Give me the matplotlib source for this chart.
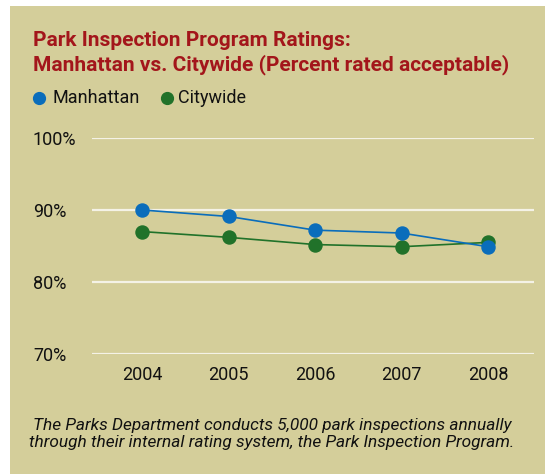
import matplotlib
matplotlib.use('Agg')
import matplotlib.pyplot as plt
from matplotlib.patches import Rectangle

years = [2004, 2005, 2006, 2007, 2008]
manhattan = [90.0, 89.1, 87.2, 86.8, 84.9]
citywide = [87.0, 86.2, 85.2, 84.9, 85.5]
yticks = [70, 80, 90, 100]
ylabels = ['70%', '80%', '90%', '100%']

bg = '#D4CE9A'
red = '#A3161B'
blue = '#0A6DBB'
green = '#21722A'

plt.rcParams['font.family'] = ['Roboto', 'DejaVu Sans']

W, H = 545, 474
fig = plt.figure(figsize=(W / 100, H / 100), dpi=100, facecolor='white')
fig.patches.append(Rectangle((10 / W, 0), 1, 1 - 6 / H, transform=fig.transFigure,
                             facecolor=bg, edgecolor='none', zorder=-5))

ax = fig.add_axes([92 / W, 1 - 354 / H, 442 / W, 216 / H])
ax.set_facecolor('none')
for s in ax.spines.values():
    s.set_visible(False)

for v in yticks:
    ax.axhline(v, color='#F4F2E6', lw=1.6, zorder=1)

ax.plot(years, citywide, color=green, lw=1.2, marker='o', ms=9.4, zorder=3)
ax.plot(years, manhattan, color=blue, lw=1.2, marker='o', ms=9.4, zorder=4)

ax.set_xlim(2003.418, 2008.532)
ax.set_ylim(70, 100)
ax.set_xticks(years)
ax.set_xticklabels([str(y) for y in years], fontsize=13, color='#111111')
ax.set_yticks(yticks)
ax.set_yticklabels(ylabels, fontsize=13, color='#111111', ha='left')
ax.tick_params(axis='both', length=0)
ax.tick_params(axis='x', pad=9)
ax.tick_params(axis='y', pad=42.5)

fig.text(33 / W, 1 - 40 / H, 'Park Inspection Program Ratings:', fontsize=15,
         fontweight='bold', color=red, va='center', ha='left')
fig.text(33 / W, 1 - 65 / H, 'Manhattan vs. Citywide (Percent rated acceptable)', fontsize=15,
         fontweight='bold', color=red, va='center', ha='left')

fig.lines.append(plt.Line2D([39 / W], [1 - 98 / H], marker='o', ms=8.5, color=blue,
                            transform=fig.transFigure))
fig.text(52 / W, 1 - 98 / H, 'Manhattan', fontsize=13, color='#111111', va='center')
fig.lines.append(plt.Line2D([167 / W], [1 - 98 / H], marker='o', ms=8.5, color=green,
                            transform=fig.transFigure))
fig.text(178 / W, 1 - 98 / H, 'Citywide', fontsize=13, color='#111111', va='center')

fig.text(272 / W, 1 - 434 / H,
         'The Parks Department conducts 5,000 park inspections annually\n'
         'through their internal rating system, the Park Inspection Program.',
         fontsize=12.4, style='italic', color='#111111', ha='center', va='center',
         linespacing=1.15)

fig.savefig('out.png', dpi=100, facecolor='white')
